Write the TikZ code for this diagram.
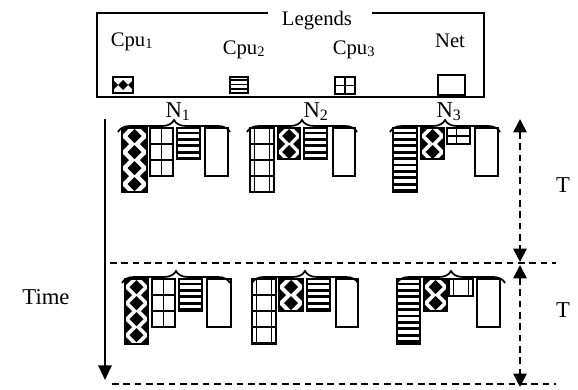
\documentclass[tikz,border=0pt]{standalone}
\usepackage{fontspec}
\setmainfont{Liberation Serif}
\usetikzlibrary{decorations.pathreplacing,arrows.meta}
% diamond-patterned box (Cpu1)
\newcommand\diabox[4]{%
  \begin{scope}
    \clip (#1,#2) rectangle (#3,#4);
    \pgfmathsetmacro\dbmx{(#1+#3)/2}
    \foreach \k in {0,...,5}{
      \fill ({\dbmx},{#2+8+16*\k}) +(-7,0) -- +(0,-7) -- +(7,0) -- +(0,7) -- cycle;
      \fill ({#1},{#2+16*\k}) +(-7,0) -- +(0,-7) -- +(7,0) -- +(0,7) -- cycle;
      \fill ({#3},{#2+16*\k}) +(-7,0) -- +(0,-7) -- +(7,0) -- +(0,7) -- cycle;
    }
  \end{scope}
  \draw[cell] (#1,#2) rectangle (#3,#4);
}
% small legend icon with diamond pattern
\newcommand\diaicon[4]{%
  \begin{scope}
    \clip (#1,#2) rectangle (#3,#4);
    \pgfmathsetmacro\dbmx{(#1+#3)/2}
    \pgfmathsetmacro\dbmy{(#2+#4)/2}
    \fill ({\dbmx},{\dbmy}) +(-5,0) -- +(0,-5) -- +(5,0) -- +(0,5) -- cycle;
    \fill ({#1},{\dbmy}) +(-5,0) -- +(0,-5) -- +(5,0) -- +(0,5) -- cycle;
    \fill ({#3},{\dbmy}) +(-5,0) -- +(0,-5) -- +(5,0) -- +(0,5) -- cycle;
  \end{scope}
  \draw[cell] (#1,#2) rectangle (#3,#4);
}
% striped box (Cpu2): #5 = period
\newcommand\linbox[5]{%
  \begin{scope}
    \clip (#1,#2) rectangle (#3,#4);
    \foreach \k in {0,...,16}{
      \fill ({#1},{#2+0.55*#5+#5*\k}) rectangle ({#3},{#2+#5+#5*\k});
    }
  \end{scope}
  \draw[cell] (#1,#2) rectangle (#3,#4);
}
% grid box (Cpu3): #5 = x fractions of vertical lines, #6 = step of horizontal lines
\newcommand\gridbox[6]{%
  \begin{scope}
    \clip (#1,#2) rectangle (#3,#4);
    \foreach \f in {#5}{
      \draw[gridln] ({#1+\f*(#3-#1)},#2) -- ({#1+\f*(#3-#1)},#4);
    }
    \foreach \k in {1,...,5}{
      \draw[gridln] (#1,{#2+#6*\k}) -- (#3,{#2+#6*\k});
    }
  \end{scope}
  \draw[cell] (#1,#2) rectangle (#3,#4);
}
% empty box (Net)
\newcommand\netbox[4]{\draw[cell] (#1,#2) rectangle (#3,#4);}
\begin{document}
\begin{tikzpicture}[x=0.75pt,y=-0.75pt,
  every node/.style={inner sep=0pt, outer sep=0pt, font=\fontsize{17}{20}\selectfont},
  legtext/.style={font=\fontsize{15.5}{18}\selectfont},
  frame/.style={line width=1.5pt},
  cell/.style={draw, line width=1.4pt},
  gridln/.style={line width=0.9pt},
  dashln/.style={dash pattern=on 5pt off 3.5pt, line width=1.2pt},
  timearrow/.style={-{Triangle[length=11pt,width=10pt]}, line width=1.5pt},
  grp/.style={decorate, decoration={brace, amplitude=9pt}, line width=1.3pt}
]
\useasboundingbox (0,0) rectangle (578,389);

% ---------- legend ----------
\coordinate (lg1) at (268,13);
\coordinate (lg2) at (97,13);
\coordinate (lg3) at (97,97);
\coordinate (lg4) at (484,97);
\coordinate (lg5) at (484,13);
\coordinate (lg6) at (372,13);
\draw[frame] (lg1) -- (lg2) -- (lg3) -- (lg4) -- (lg5) -- (lg6);
\node[legtext, anchor=base] (legends) at (317,25) {Legends};
\node[legtext, anchor=base] (lcpu1) at (132,46) {Cpu\textsubscript{1}};
\node[legtext, anchor=base] (lcpu2) at (244,54) {Cpu\textsubscript{2}};
\node[legtext, anchor=base] (lcpu3) at (354,54) {Cpu\textsubscript{3}};
\node[legtext, anchor=base] (lnet) at (450,47) {Net};
\diaicon{113}{77}{133}{93}
\linbox{230}{77}{248}{93}{4.2}
\gridbox{335}{77}{355}{94}{0.5}{8.5}
\netbox{438}{75}{465}{95}

% ---------- time axis ----------
\coordinate (t0) at (105,119);
\coordinate (t1) at (105,380);
\draw[timearrow] (t0) -- (t1);
\node[anchor=base] (time) at (46,304) {Time};

% ---------- period separators ----------
\coordinate (d1a) at (110,263);
\coordinate (d1b) at (556,263);
\coordinate (d2a) at (112,384);
\coordinate (d2b) at (556,384);
\draw[dashln] (d1a) -- (d1b);
\draw[dashln] (d2a) -- (d2b);

\coordinate (p1a) at (520,119);
\coordinate (p1b) at (520,262);
\coordinate (p2a) at (520,265);
\coordinate (p2b) at (520,387);
\draw[dashln, {Triangle[length=10pt,width=10pt]}-{Triangle[length=10pt,width=10pt]}] (p1a) -- (p1b);
\draw[dashln, {Triangle[length=10pt,width=10pt]}-{Triangle[length=10pt,width=10pt]}] (p2a) -- (p2b);
\node[anchor=base] (T1) at (563,192) {T};
\node[anchor=base] (T2) at (563,317) {T};

% ---------- period 1 ----------
\coordinate (b1l) at (118,132); \coordinate (b1r) at (230,132);
\coordinate (b2l) at (247,132); \coordinate (b2r) at (357,132);
\coordinate (b3l) at (390,132); \coordinate (b3r) at (500,132);
\draw[grp] (b1l) -- (b1r);
\draw[grp] (b2l) -- (b2r);
\draw[grp] (b3l) -- (b3r);
\node[anchor=base] (n1) at (178,117) {N\textsubscript{1}};
\node[anchor=base] (n2) at (316,117) {N\textsubscript{2}};
\node[anchor=base] (n3) at (449,117) {N\textsubscript{3}};

\diabox{122}{128}{147}{192}
\gridbox{150}{128}{173}{176}{0.5}{16}
\linbox{177}{128}{200}{159}{6.4}
\netbox{205}{128}{228}{176}

\gridbox{250}{128}{274}{192}{0.2,0.8}{16}
\diabox{278}{128}{300}{159}
\linbox{304}{128}{327}{159}{6.4}
\netbox{333}{128}{355}{176}

\linbox{393}{128}{417}{192}{6.4}
\diabox{421}{128}{444}{159}
\gridbox{447}{128}{470}{144}{0.4}{8}
\netbox{475}{128}{498}{176}

% ---------- period 2 ----------
\coordinate (c1l) at (122,283); \coordinate (c1r) at (230,283);
\coordinate (c2l) at (252,283); \coordinate (c2r) at (358,283);
\coordinate (c3l) at (397,283); \coordinate (c3r) at (505,283);
\draw[grp] (c1l) -- (c1r);
\draw[grp] (c2l) -- (c2r);
\draw[grp] (c3l) -- (c3r);

\diabox{125}{279}{148}{344}
\gridbox{152}{279}{175}{327}{0.5}{16}
\linbox{179}{279}{202}{311}{6.4}
\netbox{207}{279}{231}{327}

\gridbox{252}{279}{276}{344}{0.2,0.8}{16}
\diabox{279}{279}{303}{311}
\linbox{307}{279}{330}{311}{6.4}
\netbox{336}{279}{358}{327}

\linbox{397}{279}{420}{344}{6.4}
\diabox{424}{279}{447}{311}
\gridbox{449}{279}{473}{296}{0.2,0.8}{50}
\netbox{477}{279}{500}{327}
\end{tikzpicture}
\end{document}
